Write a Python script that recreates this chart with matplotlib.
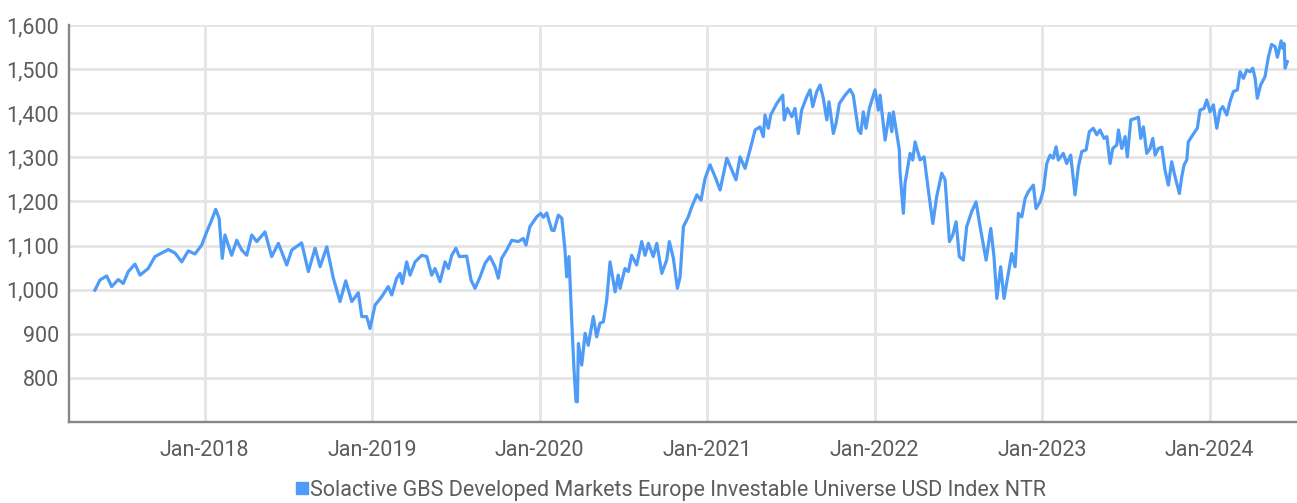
import matplotlib
matplotlib.use('Agg')
import matplotlib.pyplot as plt
from matplotlib.lines import Line2D
from matplotlib.ticker import FuncFormatter

# ── Datos (año decimal, valor del índice) ─────────────────────────────────────
years = [
    2017.346, 2017.376, 2017.416, 2017.446, 2017.485, 2017.515, 2017.545, 2017.585,
    2017.615, 2017.664, 2017.704, 2017.744, 2017.784, 2017.824, 2017.864, 2017.903,
    2017.943, 2017.983, 2018.013, 2018.043, 2018.067, 2018.087, 2018.106, 2018.122,
    2018.162, 2018.192, 2018.222, 2018.252, 2018.282, 2018.312, 2018.361, 2018.401,
    2018.441, 2018.491, 2018.521, 2018.580, 2018.620, 2018.660, 2018.690, 2018.730,
    2018.769, 2018.809, 2018.843, 2018.879, 2018.918, 2018.939, 2018.968, 2018.988,
    2019.018, 2019.058, 2019.097, 2019.118, 2019.147, 2019.167, 2019.181, 2019.207,
    2019.227, 2019.257, 2019.297, 2019.327, 2019.356, 2019.376, 2019.406, 2019.436,
    2019.456, 2019.476, 2019.501, 2019.521, 2019.565, 2019.591, 2019.615, 2019.645,
    2019.675, 2019.704, 2019.734, 2019.754, 2019.774, 2019.804, 2019.834, 2019.873,
    2019.903, 2019.919, 2019.943, 2019.983, 2020.007, 2020.023, 2020.043, 2020.073,
    2020.087, 2020.112, 2020.133, 2020.152, 2020.162, 2020.176, 2020.192, 2020.206,
    2020.218, 2020.226, 2020.232, 2020.252, 2020.272, 2020.291, 2020.321, 2020.341,
    2020.361, 2020.381, 2020.401, 2020.421, 2020.451, 2020.470, 2020.481, 2020.510,
    2020.530, 2020.550, 2020.580, 2020.610, 2020.630, 2020.650, 2020.679, 2020.700,
    2020.730, 2020.759, 2020.775, 2020.799, 2020.823, 2020.839, 2020.859, 2020.888,
    2020.909, 2020.939, 2020.964, 2020.988, 2021.018, 2021.048, 2021.078, 2021.118,
    2021.148, 2021.173, 2021.197, 2021.227, 2021.267, 2021.287, 2021.316, 2021.336,
    2021.346, 2021.366, 2021.380, 2021.416, 2021.452, 2021.461, 2021.479, 2021.506,
    2021.525, 2021.545, 2021.565, 2021.595, 2021.615, 2021.631, 2021.655, 2021.675,
    2021.694, 2021.715, 2021.728, 2021.754, 2021.770, 2021.790, 2021.824, 2021.854,
    2021.873, 2021.903, 2021.918, 2021.933, 2021.949, 2021.969, 2022.003, 2022.023,
    2022.033, 2022.063, 2022.088, 2022.103, 2022.112, 2022.148, 2022.152, 2022.172,
    2022.182, 2022.212, 2022.228, 2022.242, 2022.272, 2022.296, 2022.321, 2022.348,
    2022.371, 2022.401, 2022.421, 2022.447, 2022.467, 2022.487, 2022.506, 2022.530,
    2022.550, 2022.580, 2022.606, 2022.630, 2022.666, 2022.694, 2022.713, 2022.730,
    2022.753, 2022.773, 2022.799, 2022.819, 2022.839, 2022.859, 2022.879, 2022.899,
    2022.918, 2022.948, 2022.964, 2022.988, 2023.008, 2023.028, 2023.048, 2023.067,
    2023.084, 2023.097, 2023.127, 2023.147, 2023.171, 2023.197, 2023.217, 2023.237,
    2023.263, 2023.282, 2023.306, 2023.327, 2023.346, 2023.370, 2023.387, 2023.406,
    2023.422, 2023.446, 2023.456, 2023.476, 2023.496, 2023.509, 2023.530, 2023.555,
    2023.575, 2023.589, 2023.605, 2023.625, 2023.645, 2023.661, 2023.675, 2023.694,
    2023.715, 2023.734, 2023.754, 2023.774, 2023.794, 2023.820, 2023.834, 2023.848,
    2023.864, 2023.873, 2023.900, 2023.927, 2023.943, 2023.967, 2023.983, 2024.003,
    2024.023, 2024.043, 2024.063, 2024.079, 2024.103, 2024.122, 2024.142, 2024.166,
    2024.182, 2024.202, 2024.222, 2024.242, 2024.258, 2024.272, 2024.285, 2024.305,
    2024.331, 2024.351, 2024.370, 2024.391, 2024.405, 2024.427, 2024.437, 2024.445,
    2024.451, 2024.464,
]
values = [
    999, 1022, 1031, 1007, 1023, 1014, 1041, 1058,
    1033, 1048, 1075, 1083, 1091, 1083, 1063, 1088,
    1081, 1101, 1131, 1158, 1182, 1162, 1071, 1124,
    1078, 1112, 1090, 1078, 1124, 1109, 1131, 1075,
    1105, 1056, 1090, 1106, 1041, 1094, 1052, 1097,
    1026, 973, 1020, 973, 993, 939, 939, 912,
    965, 984, 1007, 988, 1026, 1037, 1014, 1063,
    1033, 1063, 1078, 1075, 1033, 1048, 1018, 1063,
    1048, 1078, 1094, 1075, 1076, 1022, 1003, 1029,
    1060, 1075, 1052, 1026, 1071, 1090, 1112, 1109,
    1116, 1101, 1143, 1165, 1173, 1164, 1174, 1135,
    1134, 1169, 1162, 1090, 1029, 1075, 931, 818,
    746, 746, 878, 829, 901, 874, 939, 893,
    924, 927, 976, 1063, 995, 1033, 1003, 1048,
    1041, 1078, 1056, 1109, 1078, 1105, 1075, 1105,
    1037, 1067, 1109, 1071, 1003, 1029, 1143, 1165,
    1188, 1215, 1203, 1252, 1283, 1256, 1226, 1298,
    1271, 1249, 1301, 1275, 1332, 1362, 1369, 1347,
    1396, 1366, 1396, 1422, 1441, 1385, 1411, 1392,
    1411, 1354, 1407, 1437, 1453, 1415, 1449, 1464,
    1434, 1385, 1426, 1354, 1377, 1422, 1441, 1454,
    1441, 1362, 1354, 1403, 1366, 1411, 1453, 1407,
    1441, 1339, 1400, 1358, 1403, 1317, 1267, 1173,
    1241, 1309, 1294, 1335, 1294, 1301, 1226, 1150,
    1211, 1264, 1249, 1109, 1124, 1154, 1075, 1067,
    1143, 1177, 1199, 1143, 1067, 1139, 1075, 980,
    1052, 980, 1037, 1082, 1052, 1173, 1165, 1207,
    1222, 1237, 1184, 1199, 1226, 1286, 1305, 1298,
    1324, 1294, 1309, 1286, 1305, 1215, 1279, 1313,
    1317, 1358, 1366, 1351, 1362, 1343, 1347, 1286,
    1320, 1328, 1362, 1320, 1347, 1301, 1385, 1388,
    1391, 1343, 1369, 1309, 1320, 1343, 1305, 1320,
    1323, 1271, 1237, 1290, 1256, 1218, 1256, 1283,
    1294, 1335, 1351, 1366, 1407, 1411, 1430, 1403,
    1419, 1366, 1407, 1415, 1396, 1426, 1449, 1453,
    1494, 1479, 1498, 1494, 1502, 1479, 1434, 1464,
    1483, 1527, 1556, 1551, 1527, 1564, 1547, 1558,
    1502, 1517,
]
year_ticks = [2018, 2019, 2020, 2021, 2022, 2023, 2024]
y_ticks = [800, 900, 1000, 1100, 1200, 1300, 1400, 1500, 1600]
serie = 'Solactive GBS Developed Markets Europe Investable Universe USD Index NTR'

plt.rcParams['font.family'] = ['Roboto', 'DejaVu Sans']

color_linea = '#4f9bf8'
gris_texto = '#5c5c5c'
gris_grid = '#e5e5e5'
tam = 15.5

fig = plt.figure(figsize=(12.97, 5.03), dpi=100)
ax = fig.add_axes([69 / 1297, 81 / 503, 1 - 69 / 1297, 397 / 503])

ax.plot(years, values, color=color_linea, lw=2.3, solid_joinstyle='round', zorder=3)

ax.set_xlim(2017.191, 2024.522)
ax.set_ylim(700, 1600)
ax.set_xticks(year_ticks)
ax.set_xticklabels([f'Jan-{y}' for y in year_ticks])
ax.set_yticks(y_ticks)
ax.yaxis.set_major_formatter(FuncFormatter(lambda v, p: f'{int(v):,}'))

ax.grid(True, color=gris_grid, lw=2.0, zorder=0)
ax.set_axisbelow(True)
for lado in ['top', 'right']:
    ax.spines[lado].set_visible(False)
for lado in ['left', 'bottom']:
    ax.spines[lado].set_color('#888888')
    ax.spines[lado].set_linewidth(1.7)
ax.tick_params(length=0, labelsize=tam, colors=gris_texto)
ax.tick_params(axis='x', pad=13)
ax.tick_params(axis='y', pad=7)

handle = Line2D([], [], marker='s', ls='none', color=color_linea, markersize=8)
fig.legend([handle], [serie], loc='center', bbox_to_anchor=(0.517, 0.025),
           frameon=False, fontsize=tam, handletextpad=0.1, handlelength=0.6,
           labelcolor=gris_texto, borderaxespad=0)

fig.savefig('out.png', dpi=100)
